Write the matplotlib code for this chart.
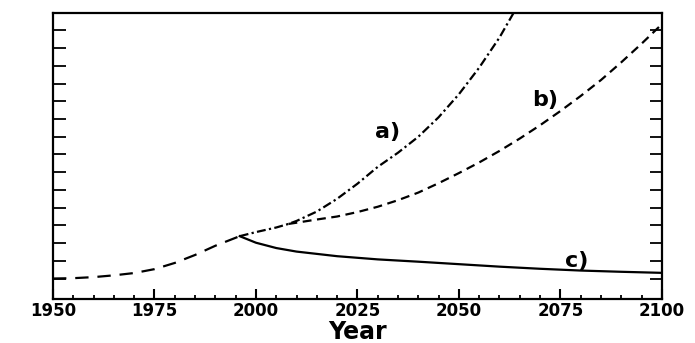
import matplotlib.pyplot as plt

# historical (dashed), up to branch point
hist_years = [1950, 1955, 1960, 1965, 1970, 1975, 1980, 1985, 1990, 1996]
hist_vals = [1.0, 1.02, 1.08, 1.18, 1.31, 1.53, 1.88, 2.33, 2.85, 3.39]

# scenario a) dash-dot
a_years = [1996, 2000, 2005, 2008, 2010, 2015, 2020, 2025, 2030, 2035, 2040, 2045, 2050, 2055, 2060, 2065]
a_vals = [3.39, 3.62, 3.88, 4.08, 4.25, 4.78, 5.5, 6.35, 7.3, 8.1, 9.0, 10.1, 11.4, 12.9, 14.6, 16.6]

# scenario b) dashed
b_years = [2008, 2010, 2015, 2020, 2025, 2030, 2035, 2040, 2045, 2050, 2055, 2060,
           2065, 2070, 2075, 2080, 2085, 2090, 2095, 2100]
b_vals = [4.08, 4.15, 4.33, 4.5, 4.75, 5.05, 5.42, 5.85, 6.38, 6.95, 7.55, 8.2,
          8.9, 9.65, 10.45, 11.3, 12.2, 13.2, 14.25, 15.35]

# scenario c) solid
c_years = [1996, 2000, 2005, 2010, 2020, 2030, 2040, 2050, 2060, 2070, 2080, 2090, 2100]
c_vals = [3.39, 3.02, 2.72, 2.52, 2.26, 2.08, 1.95, 1.81, 1.67, 1.55, 1.45, 1.38, 1.32]

x_ticks = [1950, 1975, 2000, 2025, 2050, 2075, 2100]

fig = plt.figure(figsize=(6.95, 3.43), dpi=100)
ax = fig.add_axes([0.0763, 0.127, 0.876, 0.836])

ax.plot(hist_years, hist_vals, color='k', lw=1.6, ls=(0, (6, 4)))
ax.plot(a_years, a_vals, color='k', lw=1.6, ls=(0, (4, 1.5, 1, 1.5)))
ax.plot(b_years, b_vals, color='k', lw=1.6, ls=(0, (4, 2.5)))
ax.plot(c_years, c_vals, color='k', lw=1.6, ls='-')

ax.text(2032.3, 9.24, 'a)', fontsize=16, fontweight='bold', ha='center', va='center')
ax.text(2071.2, 11.08, 'b)', fontsize=16, fontweight='bold', ha='center', va='center')
ax.text(2079.1, 2.0, 'c)', fontsize=16, fontweight='bold', ha='center', va='center')

ax.set_xlim(1950, 2100)
ax.set_ylim(-0.18, 16)
ax.set_xticks(x_ticks)
ax.set_xticks(range(1950, 2101, 5), minor=True)
ax.set_yticks(range(1, 16))
ax.set_yticklabels([])
ax.tick_params(axis='x', which='major', direction='in', length=7, width=1.5, labelsize=12, pad=1.5)
ax.tick_params(axis='x', which='minor', direction='in', length=3, width=1.3)
ax.tick_params(axis='y', which='major', direction='in', length=9, width=1.3, left=True, right=True)
for lab in ax.get_xticklabels():
    lab.set_fontweight('bold')
for s in ax.spines.values():
    s.set_linewidth(1.6)

ax.set_xlabel('Year', fontsize=17, fontweight='bold', labelpad=0)

fig.savefig('out.png', dpi=100)
